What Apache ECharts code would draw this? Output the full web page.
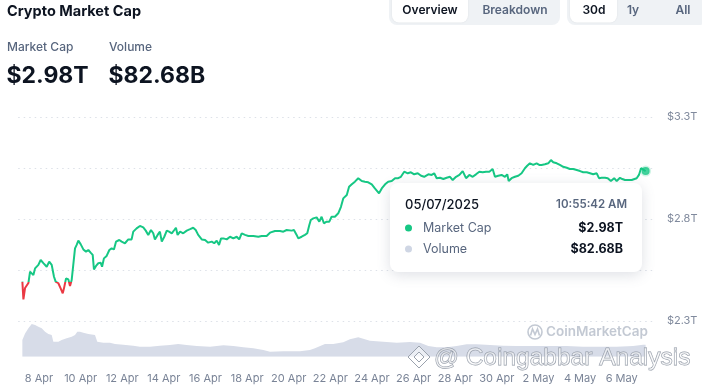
<!DOCTYPE html>
<html>
<head>
<meta charset="utf-8">
<script src="https://cdn.jsdelivr.net/npm/echarts@6/dist/echarts.min.js"></script>
<style>
html,body{margin:0;padding:0;background:#fff;}
#c{width:702px;height:389px;}
</style>
</head>
<body>
<div id="c"></div>
<script>
// ---- DATA (days since 6 Apr 2025 00:00, market cap in trillions USD) ----
const capDays = [
1.20,1.25,1.33,1.49,1.57,1.65,1.73,1.81,1.97,2.08,2.21,2.37,2.49,2.61,2.72,2.80,2.93,3.04,3.14,3.20,3.30,3.41,3.49,3.57,3.65,3.73,3.81,3.89,4.00,4.13,4.26,4.37,4.48,4.58,4.64,4.74,4.85,4.96,5.03,5.12,5.25,5.38,5.49,5.60,5.70,5.86,
5.97,6.13,6.29,6.45,6.53,6.69,6.85,7.01,7.13,7.25,7.38,7.49,7.57,7.70,7.81,7.90,8.02,8.14,8.25,8.38,8.50,8.58,8.66,8.78,8.93,9.10,9.26,9.41,9.53,9.65,9.82,9.98,10.13,10.30,10.42,10.54,10.65,10.75,
10.86,11.02,11.18,11.34,11.50,11.62,11.74,11.90,12.06,12.30,12.54,12.70,12.94,13.10,13.34,13.58,13.74,13.90,14.14,14.25,14.38,14.46,14.62,14.78,14.89,14.99,15.06,15.18,15.34,15.47,15.58,15.69,15.82,15.95,
16.06,16.22,16.38,16.51,16.62,16.79,16.90,17.03,17.18,17.34,17.51,17.66,17.82,17.99,18.14,18.34,18.47,18.63,18.78,18.95,19.11,19.26,19.39,19.55,19.72,19.87,20.03,20.20,20.36,20.51,20.71,20.87,20.99,
21.11,21.27,21.43,21.59,21.75,21.88,22.04,22.20,22.36,22.52,22.68,22.84,23.00,23.16,23.32,23.48,23.64,23.80,23.91,24.07,24.23,24.39,24.50,24.57,24.71,24.87,25.03,25.19,25.35,25.46,25.59,25.75,25.91,26.04,
26.15,26.31,26.47,26.60,26.71,26.88,27.03,27.19,27.36,27.51,27.67,27.84,28.00,28.15,28.32,28.48,28.63,28.80,28.91,29.04,29.20,29.33,29.48,29.64,29.76,29.92,30.03,30.16,30.32,30.48,30.72,30.83,30.93,30.99,31.15
];
const capValues = [
2.493,2.406,2.462,2.486,2.542,2.550,2.525,2.558,2.575,2.599,2.584,2.566,2.591,2.575,2.517,2.493,2.485,2.460,2.436,2.460,2.509,2.504,2.472,2.501,2.509,2.656,2.673,2.694,2.677,2.651,2.640,2.648,2.635,2.624,2.553,2.570,2.583,2.586,2.566,2.607,2.619,2.648,2.656,2.651,2.689,2.697,
2.689,2.681,2.700,2.700,2.738,2.754,2.766,2.759,2.743,2.722,2.746,2.730,2.700,2.722,2.738,2.689,2.713,2.743,2.738,2.730,2.746,2.757,2.722,2.738,2.730,2.743,2.750,2.757,2.746,2.722,2.700,2.697,2.684,2.689,2.681,2.694,2.673,2.705,
2.705,2.700,2.713,2.705,2.713,2.700,2.730,2.722,2.717,2.717,2.713,2.717,2.717,2.733,2.741,2.741,2.738,2.746,2.743,2.746,2.722,2.705,2.713,2.722,2.730,2.771,2.795,2.803,2.808,2.787,2.811,2.779,2.787,2.787,
2.811,2.811,2.828,2.860,2.901,2.918,2.958,2.970,2.983,3.000,2.986,2.983,2.980,2.970,2.950,2.926,2.950,2.970,2.983,2.986,3.000,3.000,3.007,3.032,3.024,3.029,3.019,3.024,3.012,3.007,3.019,3.016,3.024,
3.000,3.002,2.996,3.002,3.007,2.991,3.007,3.016,3.035,3.000,3.016,3.007,3.019,3.032,3.029,3.032,3.032,3.045,3.007,3.012,3.016,3.007,3.019,2.986,3.000,3.007,3.012,3.024,3.049,3.061,3.073,3.065,3.073,3.065,
3.065,3.068,3.073,3.089,3.078,3.073,3.065,3.056,3.051,3.045,3.045,3.040,3.035,3.029,3.029,3.024,3.019,3.024,3.000,3.002,3.002,3.000,2.986,3.000,2.986,3.002,2.996,2.991,2.991,2.991,3.000,3.016,3.049,3.056,3.035
];
// volume (billions USD)
const volDays = [
1.20,1.33,1.49,1.65,1.81,1.97,2.13,2.29,2.45,2.61,2.69,2.93,3.09,3.33,3.57,3.73,3.84,3.97,4.13,4.37,
4.69,4.80,5.09,5.41,5.65,6.05,6.53,6.85,7.33,7.81,8.29,8.69,9.09,9.58,10.22,10.86,11.34,11.82,12.30,12.78,
13.10,13.74,14.54,15.02,15.26,15.74,16.14,16.62,16.94,17.34,17.90,18.54,19.19,19.83,20.31,20.71,21.11,21.59,22.07,22.55,
23.03,23.67,24.31,24.95,25.75,26.55,27.35,28.15,28.95,29.75,30.55,31.03,31.15
];
const volValues = [
115,161,196,226,219,207,196,173,157,150,104,104,115,127,138,150,173,173,166,157,
150,104,97,97,88,83,76,69,69,76,81,88,81,74,69,79,74,65,58,46,
35,37,37,46,58,88,88,99,120,134,110,104,97,101,97,74,65,65,74,86,
86,81,76,74,74,74,74,69,69,69,74,83,82.68
];
const yTicks = [2.3, 2.8, 3.3];
const monthNames = ['Jan','Feb','Mar','Apr','May','Jun','Jul','Aug','Sep','Oct','Nov','Dec'];
const baseDate = Date.UTC(2025, 3, 6);

// ---- header / tooltip texts ----
const title = 'Crypto Market Cap';
const statLabels = ['Market Cap', 'Volume'];
const statValues = ['$2.98T', '$82.68B'];
const tipDate = '05/07/2025', tipTime = '10:55:42 AM';

const capData = capDays.map((d, i) => [d, capValues[i]]).filter(p => p[1] !== undefined);
const volData = volDays.map((d, i) => [d, volValues[i]]).filter(p => p[1] !== undefined);
const last = capData[capData.length - 1];
const startVal = capValues[0];

const GREEN = '#16c784', RED = '#ea3943';
const FONT = 'Inter, "Noto Sans", sans-serif';

const chart = echarts.init(document.getElementById('c'), null, {renderer: 'canvas'});
const gLeft = 18.2, gRight = 49.1;

function dayLabel(v) {
  const r = Math.round(v);
  if (Math.abs(v - r) > 1e-6 || r % 2 !== 0) return '';
  const dt = new Date(baseDate + r * 86400000);
  return dt.getUTCDate() + ' ' + monthNames[dt.getUTCMonth()];
}

const G = [];
function txt(text, x, y, font, fill, align, z, extraStyle) {
  G.push({type: 'text', z: z || 100, style: Object.assign({text, x, y, font, fill, textAlign: align || 'left', textVerticalAlign: 'middle'}, extraStyle || {})});
}
// buttons
G.push({type: 'rect', z: 90, shape: {x: 389, y: -8, width: 171, height: 33, r: 8}, style: {fill: '#eff2f5'}});
G.push({type: 'rect', z: 91, shape: {x: 392, y: -8, width: 76, height: 30.5, r: 7}, style: {fill: '#ffffff', shadowBlur: 2, shadowColor: 'rgba(0,0,0,0.08)'}});
G.push({type: 'rect', z: 90, shape: {x: 567, y: -8, width: 140, height: 33, r: 8}, style: {fill: '#eff2f5'}});
G.push({type: 'rect', z: 91, shape: {x: 570, y: -8, width: 47, height: 30.5, r: 7}, style: {fill: '#ffffff', shadowBlur: 2, shadowColor: 'rgba(0,0,0,0.08)'}});
txt('Overview', 430, 10.5, '600 12px ' + FONT, '#0d1421', 'center');
txt('Breakdown', 515, 10.5, '600 12px ' + FONT, '#58667e', 'center');
txt('30d', 594, 10.5, '600 12px ' + FONT, '#0d1421', 'center');
txt('1y', 633, 10.5, '600 12px ' + FONT, '#58667e', 'center');
txt('All', 683, 10.5, '600 12px ' + FONT, '#58667e', 'center');
// header
txt(title, 7, 12, '700 14.5px ' + FONT, '#0d1421');
txt(statLabels[0], 7, 47, '500 12px ' + FONT, '#58667e');
txt(statLabels[1], 109, 47, '500 12px ' + FONT, '#58667e');
txt(statValues[0], 6.5, 76, '700 23px ' + FONT, '#0d1421');
txt(statValues[1], 108.5, 76, '700 23px ' + FONT, '#0d1421');
// CoinMarketCap watermark
G.push({type: 'circle', z: 20, shape: {cx: 535, cy: 332, r: 7}, style: {fill: 'none', stroke: '#c3c9d3', lineWidth: 1.6}});
G.push({type: 'polyline', z: 20, shape: {points: [[530.5, 335.5], [532.5, 329], [535, 334.5], [537.5, 329], [539.5, 335.5]]}, style: {fill: 'none', stroke: '#c3c9d3', lineWidth: 1.6}});
txt('CoinMarketCap', 546, 332, '600 13.5px ' + FONT, '#c3c9d3', 'left', 20);
// tooltip box
G.push({type: 'rect', z: 95, shape: {x: 390, y: 183, width: 252, height: 89, r: 8}, style: {fill: '#ffffff', shadowBlur: 14, shadowColor: 'rgba(88,102,126,0.20)', shadowOffsetY: 3}});
txt(tipDate, 405, 205, '500 13px ' + FONT, '#0d1421');
txt(tipTime, 627, 205, '600 11.5px ' + FONT, '#58667e', 'right');
G.push({type: 'circle', z: 100, shape: {cx: 408.5, cy: 228, r: 3.5}, style: {fill: GREEN}});
G.push({type: 'circle', z: 100, shape: {cx: 408.5, cy: 249, r: 3.5}, style: {fill: '#cfd6e4'}});
txt(statLabels[0], 423, 228, '400 12.5px ' + FONT, '#58667e');
txt(statLabels[1], 423, 249, '400 12.5px ' + FONT, '#58667e');
txt(statValues[0], 623, 228, '700 12.5px ' + FONT, '#0d1421', 'right');
txt(statValues[1], 623, 249, '700 12.5px ' + FONT, '#0d1421', 'right');
// Coingabbar watermark
G.push({type: 'polygon', z: 110, shape: {points: [[419, 346], [430, 357], [419, 368], [408, 357]]}, style: {fill: 'rgba(255,255,255,0.5)', stroke: '#9aa2ad', lineWidth: 1}});
G.push({type: 'polygon', z: 110, shape: {points: [[419, 352], [424, 357], [419, 362], [414, 357]]}, style: {fill: 'rgba(255,255,255,0.5)', stroke: '#9aa2ad', lineWidth: 1}});
txt('@ Coingabbar Analysis', 434, 358, '400 24.5px "Liberation Sans", sans-serif', 'rgba(255,255,255,0.55)', 'left', 110, {stroke: '#8e96a3', lineWidth: 0.9});

const option = {
  animation: false,
  backgroundColor: '#ffffff',
  grid: [
    {left: gLeft, right: gRight, top: 117, height: 204},
    {left: gLeft, right: gRight, top: 320.5, height: 36.2}
  ],
  xAxis: [
    {type: 'value', gridIndex: 0, min: 1, max: 31.5, interval: 1, show: false},
    {type: 'value', gridIndex: 1, min: 1, max: 31.5, interval: 1,
      axisLine: {show: false}, axisTick: {show: false}, splitLine: {show: false},
      axisLabel: {formatter: dayLabel, fontFamily: FONT, fontSize: 11, color: '#7a8497', margin: 16}}
  ],
  yAxis: [
    {type: 'value', gridIndex: 0, position: 'right', min: 2.3, max: 3.3, interval: 0.25,
      axisLine: {show: false}, axisTick: {show: false},
      splitLine: {show: true, lineStyle: {type: [1.5, 4], color: '#dde1e8', width: 1}},
      axisLabel: {margin: 14, fontFamily: FONT, fontSize: 11, color: '#808a9d',
        formatter: v => yTicks.some(t => Math.abs(t - v) < 1e-6) ? '$' + v.toFixed(1) + 'T' : ''}},
    {type: 'value', gridIndex: 1, min: 0, max: 250, show: false}
  ],
  visualMap: {
    show: false, type: 'piecewise', seriesIndex: 0, dimension: 1,
    pieces: [{min: 2.0, max: startVal, color: RED}, {min: startVal, max: 4.0, color: GREEN}],
    outOfRange: {color: GREEN}
  },
  series: [
    {type: 'line', xAxisIndex: 0, yAxisIndex: 0, data: capData, showSymbol: false, symbol: 'none',
      lineStyle: {width: 2}, z: 5},
    {type: 'scatter', xAxisIndex: 0, yAxisIndex: 0, data: [last], symbolSize: 8,
      itemStyle: {color: GREEN, borderColor: 'rgba(22,199,132,0.25)', borderWidth: 3}, z: 6},
    {type: 'line', xAxisIndex: 1, yAxisIndex: 1, data: volData, showSymbol: false, symbol: 'none',
      lineStyle: {width: 0}, areaStyle: {color: '#d7dce8', opacity: 1}, z: 3}
  ],
  graphic: G
};
chart.setOption(option);
</script>
</body>
</html>
